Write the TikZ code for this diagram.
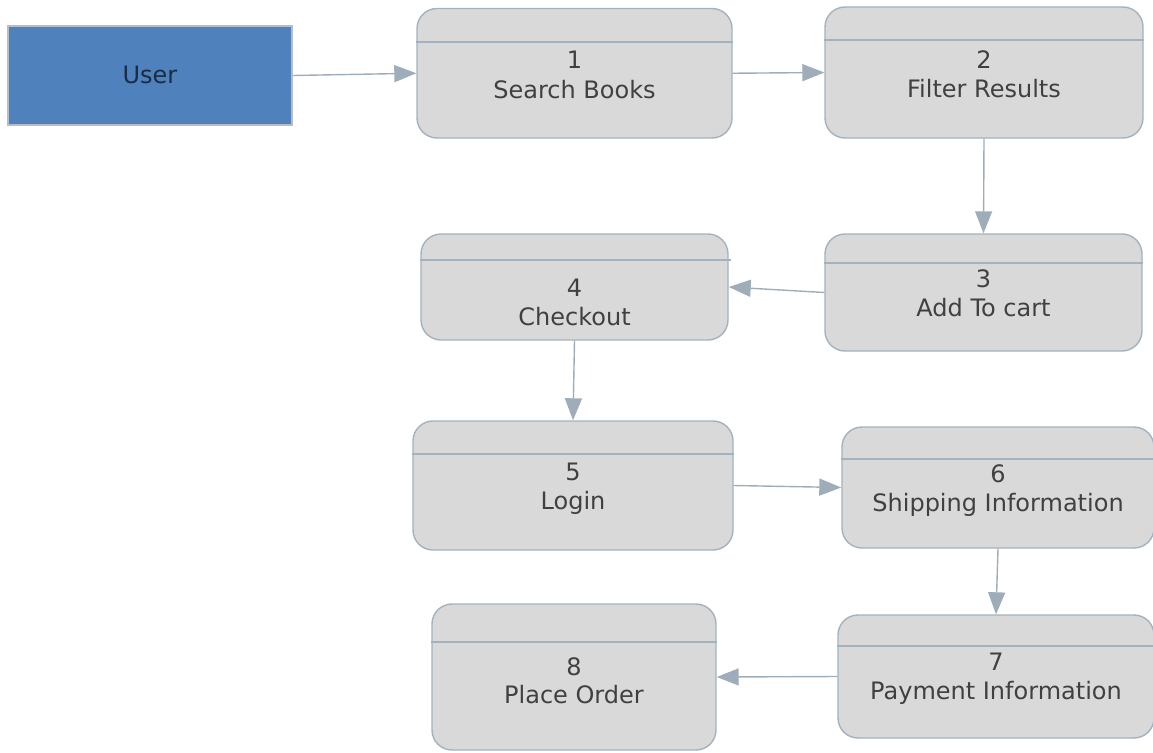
\documentclass[tikz,border=0pt]{standalone}
\usepackage{fontspec}
\setmainfont{DejaVu Sans}
\usetikzlibrary{arrows.meta}
\definecolor{procfill}{HTML}{D9D9D9}
\definecolor{procline}{HTML}{A3B2BE}
\definecolor{txtgray}{HTML}{404040}
\definecolor{userfill}{HTML}{4F81BD}
\definecolor{userline}{HTML}{B4BEC8}
\definecolor{usertxt}{HTML}{1B2C44}
\definecolor{arrowcol}{HTML}{9EADB9}
\tikzset{
  proc/.style={draw=procline, fill=procfill, line width=1.4pt, rounded corners=20pt, inner sep=0pt},
  userbox/.style={draw=userline, fill=userfill, line width=1.4pt, inner sep=0pt},
  divider/.style={draw=procline, line width=1.4pt},
  txt/.style={anchor=base, inner sep=0pt, text=txtgray, font=\fontsize{24}{30}\selectfont},
  utxt/.style={anchor=base, inner sep=0pt, text=usertxt, font=\fontsize{24}{30}\selectfont},
  flow/.style={draw=arrowcol, line width=1.4pt, -{Triangle[length=22pt, width=17pt]}},
}
\begin{document}
\begin{tikzpicture}[x=1pt, y=-1pt]
\useasboundingbox (0,0) rectangle (1153,752);
\begin{scope}
\clip (0,0) rectangle (1153,752);
% user
\node[userbox, minimum width=284pt, minimum height=99pt] (user) at (150,75.5) {};
\node[utxt] (usert) at (150,84) {User};
% processes
\node[proc, minimum width=315pt, minimum height=129.5pt] (n1) at (574.5,73.25) {};
\node[proc, minimum width=318pt, minimum height=131pt] (n2) at (984,72.5) {};
\node[proc, minimum width=317pt, minimum height=117pt] (n3) at (983.5,292.5) {};
\node[proc, minimum width=307pt, minimum height=106pt] (n4) at (574.5,287) {};
\node[proc, minimum width=320pt, minimum height=129pt] (n5) at (573,485.5) {};
\node[proc, minimum width=312pt, minimum height=121pt] (n6) at (998,487.5) {};
\node[proc, minimum width=316pt, minimum height=123pt] (n7) at (996,676.5) {};
\node[proc, minimum width=284pt, minimum height=146pt] (n8) at (574,677) {};
% dividers
\path[divider] (n1.west |- 0,42) -- (n1.east |- 0,42);
\path[divider] (n2.west |- 0,40) -- (n2.east |- 0,40);
\path[divider] (n3.west |- 0,263) -- (n3.east |- 0,263);
\path[divider] (n4.west |- 0,260) -- ([xshift=2pt]n4.east |- 0,260);
\path[divider] (n5.west |- 0,454) -- (n5.east |- 0,454);
\path[divider] (n6.west |- 0,459) -- (n6.east |- 0,459);
\path[divider] (n7.west |- 0,646) -- (n7.east |- 0,646);
\path[divider] (n8.west |- 0,642) -- (n8.east |- 0,642);
% texts
\node[txt] (n1a) at (n1.center |- 0,69) {1};
\node[txt] (n1b) at (n1.center |- 0,98) {Search Books};
\node[txt] (n2a) at (n2.center |- 0,68) {2};
\node[txt] (n2b) at (n2.center |- 0,97) {Filter Results};
\node[txt] (n3a) at (n3.center |- 0,287) {3};
\node[txt] (n3b) at (n3.center |- 0,316) {Add To cart};
\node[txt] (n4a) at (n4.center |- 0,296) {4};
\node[txt] (n4b) at (n4.center |- 0,325) {Checkout};
\node[txt] (n5a) at (n5.center |- 0,480) {5};
\node[txt] (n5b) at (n5.center |- 0,509) {Login};
\node[txt] (n6a) at (n6.center |- 0,482) {6};
\node[txt] (n6b) at (n6.center |- 0,511) {Shipping Information};
\node[txt] (n7a) at (n7.center |- 0,670) {7};
\node[txt] (n7b) at (n7.center |- 0,699) {Payment Information};
\node[txt] (n8a) at (n8.center |- 0,675) {8};
\node[txt] (n8b) at (n8.center |- 0,703) {Place Order};
% connectors
\draw[flow] (user.east) -- (n1.west);
\draw[flow] (n1.east) -- (n2.west);
\draw[flow] (n2.south) -- (n3.north);
\draw[flow] (n3.west) -- (n4.east);
\draw[flow] (n4.south) -- (n5.north);
\draw[flow] (n5.east) -- (n6.west);
\draw[flow] (n6.south) -- (n7.north);
\draw[flow] (n7.west) -- (n8.east);
\end{scope}
\end{tikzpicture}
\end{document}
